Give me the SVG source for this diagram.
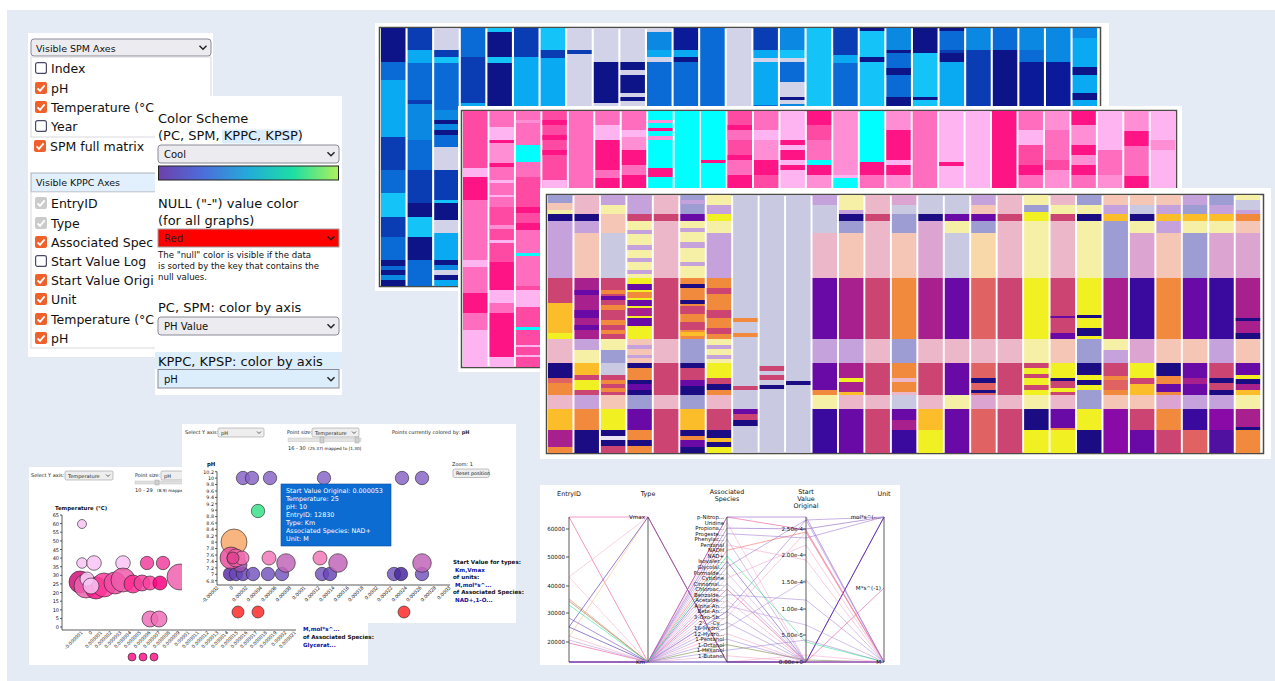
<svg xmlns="http://www.w3.org/2000/svg" width="1275" height="681" viewBox="0 0 1275 681">
<style>
text{font-family:"DejaVu Sans","Liberation Sans",sans-serif;fill:#111}
.ui{font-size:12.5px}
.h{font-size:13px}
.sm{font-size:8.6px}
.dd{fill:#ececf0;stroke:#8a8a96;stroke-width:1}
.chev{fill:none;stroke:#222;stroke-width:1.4}
.frame{fill:#fff}
.bord{fill:#fff;stroke:#4c4c46;stroke-width:1.5}
.nv{fill:#1c0c84}.pu{fill:#6a0aa6}.mg{fill:#a8208e}.cr{fill:#cc4472}.co{fill:#e06262}.or{fill:#f28a3e}.yo{fill:#fbbd2a}.ye{fill:#f0f022}.lv{fill:#c9c9e2}.lp{fill:#c6a2dc}.lb{fill:#9d9dd3}.pk{fill:#ecb7c8}.pe{fill:#f5c5b5}.ly{fill:#f6f0a6}.pl{fill:#dca4d0}.np{fill:#3a0a9e}.vi{fill:#8a0aa8}.wy{fill:#f8d8a8}
.bn{fill:#0c1488}.bd{fill:#0a3cb4}.bm{fill:#0a6ad6}.bb{fill:#0a88e2}.bl{fill:#0aaaf2}.bc{fill:#14c4f8}.bg{fill:#d2d2e8}.bx{fill:#0a1a98}
.hp{fill:#ff1485}.p1{fill:#ff4aa4}.p2{fill:#ff6ebe}.p3{fill:#ff8ed4}.lq{fill:#ffb4f2}.cy{fill:#00ffff}
.tk{font-size:5px;fill:#222}
.ax{stroke:#333;stroke-width:0.8;fill:none}
.bub circle{stroke:#222;stroke-width:0.6;fill-opacity:0.85}
.pc path{fill:none;stroke-width:0.9;stroke-opacity:0.6}
.lg{font-size:5.6px;font-weight:bold}
.lgb{font-size:5.6px;font-weight:bold;fill:#1010a0}
</style>
<defs>
<g id="cbon"><rect x="0" y="0" width="12" height="12" rx="2" fill="#f0602a"/><path d="M2.6 6.3 L5 8.8 L9.6 3.4" fill="none" stroke="#fff" stroke-width="1.8"/></g>
<g id="cbdis"><rect x="0" y="0" width="12" height="12" rx="2" fill="#cbcbcb"/><path d="M2.6 6.3 L5 8.8 L9.6 3.4" fill="none" stroke="#fff" stroke-width="1.8"/></g>
<g id="cboff"><rect x="0.6" y="0.6" width="10.8" height="10.8" rx="2" fill="#fff" stroke="#4a4a66" stroke-width="1.2"/></g>
<path id="chv" d="M-3.5 -1.8 L0 1.8 L3.5 -1.8"/>
<linearGradient id="cool" x1="0" x2="1" y1="0" y2="0">
<stop offset="0" stop-color="#6e40aa"/><stop offset="0.25" stop-color="#4c6edb"/><stop offset="0.5" stop-color="#23abd8"/><stop offset="0.75" stop-color="#1ddfa3"/><stop offset="1" stop-color="#aff05b"/>
</linearGradient>
<clipPath id="clipL"><rect x="28" y="33" width="127" height="324"/></clipPath>
</defs>
<rect x="0" y="0" width="1275" height="681" fill="#fff"/>
<rect x="7" y="10" width="1268" height="671" fill="#e4ebf4"/>

<g id="settings-axes">
<rect x="28" y="33" width="185" height="324" fill="#fff"/>
<rect class="dd" x="31" y="39" width="180" height="17" rx="3"/>
<text x="36" y="51.5" style="font-size:9.5px">Visible SPM Axes</text>
<use href="#chv" x="203" y="47.5" class="chev"/>
<rect x="31" y="57" width="180" height="80" fill="#fff" stroke="#d0d0d8" stroke-width="0.8"/>
<use href="#cboff" x="35" y="62"/><text class="ui" x="51" y="72.5">Index</text>
<use href="#cbon" x="35" y="82"/><text class="ui" x="51" y="92.5">pH</text>
<use href="#cbon" x="35" y="101"/><text class="ui" x="51" y="111.5">Temperature (°C</text>
<use href="#cboff" x="35" y="120"/><text class="ui" x="51" y="130.5">Year</text>
<use href="#cbon" x="34" y="140"/><text class="ui" x="50" y="150.5">SPM full matrix</text>
<rect x="31" y="173" width="180" height="19" fill="#e2f0fd" stroke="#9aa0aa" stroke-width="0.8"/>
<text x="36" y="186" style="font-size:9.5px">Visible KPPC Axes</text>
<rect x="31" y="192" width="180" height="156" fill="#fff" stroke="#d0d0d8" stroke-width="0.8"/>
<use href="#cbdis" x="35" y="197"/><text class="ui" x="51" y="207.5">EntryID</text>
<use href="#cbdis" x="35" y="217"/><text class="ui" x="51" y="227.5">Type</text>
<g clip-path="url(#clipL)">
<use href="#cbon" x="35" y="236"/><text class="ui" x="51" y="246.5">Associated Spec</text>
<use href="#cboff" x="35" y="255"/><text class="ui" x="51" y="265.5">Start Value Log</text>
<use href="#cbon" x="35" y="274"/><text class="ui" x="51" y="284.5">Start Value Origi</text>
</g>
<use href="#cbon" x="35" y="293"/><text class="ui" x="51" y="303.5">Unit</text>
<use href="#cbon" x="35" y="313"/><text class="ui" x="51" y="323.5">Temperature (°C</text>
<use href="#cbon" x="35" y="332"/><text class="ui" x="51" y="342.5">pH</text>
</g>

<g id="settings-color">
<rect x="155" y="96" width="187" height="299" fill="#fff"/>
<text class="h" x="158" y="123">Color Scheme</text>
<rect x="222" y="129.5" width="79" height="14" fill="#dbeeff"/>
<text class="h" x="158" y="140">(PC, SPM, KPPC, KPSP)</text>
<rect class="dd" x="158" y="145" width="181" height="18" rx="3"/>
<text x="164" y="158" style="font-size:10px">Cool</text>
<use href="#chv" x="331" y="154" class="chev"/>
<rect x="158.5" y="166" width="180" height="14" fill="url(#cool)" stroke="#222" stroke-width="1"/>
<text class="h" x="158" y="208">NULL ("-") value color</text>
<text class="h" x="158" y="225">(for all graphs)</text>
<rect x="158" y="229" width="181" height="18" fill="#ff0000" stroke="#a0a0a0" stroke-width="1"/>
<text x="164" y="242" style="font-size:10px;fill:#222">Red</text>
<use href="#chv" x="331" y="238" class="chev"/>
<text class="sm" x="158" y="257.5">The "null" color is visible if the data</text>
<text class="sm" x="158" y="268.5">is sorted by the key that contains the</text>
<text class="sm" x="158" y="279.5">null values.</text>
<text class="h" x="158" y="312">PC, SPM: color by axis</text>
<rect class="dd" x="158" y="317" width="181" height="18" rx="3"/>
<text x="164" y="330" style="font-size:10px">PH Value</text>
<use href="#chv" x="331" y="326" class="chev"/>
<rect x="155" y="352" width="187" height="17" fill="#dceefc"/>
<text class="h" x="158" y="365.5">KPPC, KPSP: color by axis</text>
<rect x="158" y="369.5" width="181" height="18.5" fill="#dceefc" stroke="#8a8a96" stroke-width="1"/>
<text x="164" y="382.5" style="font-size:10px">pH</text>
<use href="#chv" x="331" y="379" class="chev"/>
</g>

<g id="heatmap-blue">
<rect class="frame" x="375" y="23" width="734" height="268"/>
<rect class="bord" x="379.5" y="27.5" width="721" height="259"/>
<g transform="translate(381 0)"><rect class="bn" y="28" width="24.5" height="34"/><rect class="bm" y="62" width="24.5" height="18"/><rect class="bl" y="80" width="24.5" height="57"/><rect class="bd" y="137" width="24.5" height="33"/><rect class="bm" y="170" width="24.5" height="23"/><rect class="bc" y="193" width="24.5" height="24"/><rect class="bd" y="217" width="24.5" height="20"/><rect class="bm" y="237" width="24.5" height="23"/><rect class="bn" y="260" width="24.5" height="6"/><rect class="bm" y="266" width="24.5" height="4"/><rect class="bn" y="270" width="24.5" height="5"/><rect class="bb" y="275" width="24.5" height="5"/><rect class="bn" y="280" width="24.5" height="6"/></g>
<g transform="translate(407.6 0)"><rect class="bd" y="28" width="24.5" height="22"/><rect class="bl" y="50" width="24.5" height="13"/><rect class="bm" y="63" width="24.5" height="37"/><rect class="bd" y="100" width="24.5" height="4"/><rect class="bb" y="104" width="24.5" height="36"/><rect class="bm" y="140" width="24.5" height="30"/><rect class="bd" y="170" width="24.5" height="33"/><rect class="bn" y="203" width="24.5" height="14"/><rect class="bc" y="217" width="24.5" height="20"/><rect class="bn" y="237" width="24.5" height="23"/><rect class="bm" y="260" width="24.5" height="26"/></g>
<g transform="translate(434.2 0)"><rect class="bg" y="28" width="24.5" height="22"/><rect class="bd" y="50" width="24.5" height="7"/><rect class="bc" y="57" width="24.5" height="6"/><rect class="bm" y="63" width="24.5" height="47"/><rect class="bb" y="110" width="24.5" height="10"/><rect class="bn" y="120" width="24.5" height="4"/><rect class="bb" y="124" width="24.5" height="6"/><rect class="bn" y="130" width="24.5" height="5"/><rect class="bm" y="135" width="24.5" height="12"/><rect class="bg" y="147" width="24.5" height="23"/><rect class="bd" y="170" width="24.5" height="30"/><rect class="bc" y="200" width="24.5" height="3"/><rect class="bn" y="203" width="24.5" height="17"/><rect class="bg" y="220" width="24.5" height="13"/><rect class="bl" y="233" width="24.5" height="27"/><rect class="bn" y="260" width="24.5" height="5"/><rect class="bb" y="265" width="24.5" height="5"/><rect class="bg" y="270" width="24.5" height="5"/><rect class="bn" y="275" width="24.5" height="5"/><rect class="bl" y="280" width="24.5" height="6"/></g>
<g transform="translate(460.8 0)"><rect class="bm" y="28" width="24.5" height="29"/><rect class="bd" y="57" width="24.5" height="46"/><rect class="bl" y="103" width="24.5" height="7"/></g>
<g transform="translate(487.4 0)"><rect class="bc" y="28" width="24.5" height="4"/><rect class="bn" y="32" width="24.5" height="25"/><rect class="bc" y="57" width="24.5" height="6"/><rect class="bn" y="63" width="24.5" height="44"/><rect class="bd" y="107" width="24.5" height="3"/></g>
<g transform="translate(514 0)"><rect class="bd" y="28" width="24.5" height="29"/><rect class="bl" y="57" width="24.5" height="53"/></g>
<g transform="translate(540.6 0)"><rect class="bc" y="28" width="24.5" height="22"/><rect class="bd" y="50" width="24.5" height="8"/><rect class="bl" y="58" width="24.5" height="52"/></g>
<g transform="translate(567.2 0)"><rect class="bg" y="28" width="24.5" height="82"/><rect class="bd" y="50" width="24.5" height="4"/></g>
<g transform="translate(593.8 0)"><rect class="bg" y="28" width="24.5" height="82"/><rect class="bn" y="62" width="24.5" height="41"/></g>
<g transform="translate(620.4 0)"><rect class="bg" y="28" width="24.5" height="82"/><rect class="bn" y="62" width="24.5" height="8"/><rect class="bn" y="75" width="24.5" height="18"/><rect class="bn" y="97" width="24.5" height="4"/></g>
<g transform="translate(647 0)"><rect class="bg" y="28" width="24.5" height="82"/><rect class="bb" y="32" width="24.5" height="18"/><rect class="bl" y="50" width="24.5" height="7"/><rect class="bm" y="62" width="24.5" height="48"/></g>
<g transform="translate(673.6 0)"><rect class="bx" y="28" width="24.5" height="22"/><rect class="bl" y="50" width="24.5" height="7"/><rect class="bn" y="57" width="24.5" height="5"/><rect class="bm" y="62" width="24.5" height="48"/></g>
<g transform="translate(700.2 0)"><rect class="bm" y="28" width="24.5" height="82"/></g>
<g transform="translate(726.8 0)"><rect class="bg" y="28" width="24.5" height="82"/></g>
<g transform="translate(753.4 0)"><rect class="bd" y="28" width="24.5" height="22"/><rect class="bl" y="50" width="24.5" height="8"/><rect class="bg" y="58" width="24.5" height="4"/><rect class="bl" y="62" width="24.5" height="43"/><rect class="bm" y="105" width="24.5" height="5"/></g>
<g transform="translate(780 0)"><rect class="bb" y="28" width="24.5" height="22"/><rect class="bc" y="50" width="24.5" height="8"/><rect class="bg" y="58" width="24.5" height="4"/><rect class="bm" y="62" width="24.5" height="20"/><rect class="bg" y="82" width="24.5" height="28"/><rect class="bn" y="97" width="24.5" height="3"/><rect class="bb" y="104" width="24.5" height="6"/></g>
<g transform="translate(806.6 0)"><rect class="bc" y="28" width="24.5" height="82"/></g>
<g transform="translate(833.2 0)"><rect class="bd" y="28" width="24.5" height="27"/><rect class="bl" y="55" width="24.5" height="8"/><rect class="bm" y="63" width="24.5" height="47"/></g>
<g transform="translate(859.8 0)"><rect class="bc" y="28" width="24.5" height="82"/><rect class="bn" y="28" width="24.5" height="3"/><rect class="bn" y="57" width="24.5" height="5"/></g>
<g transform="translate(886.4 0)"><rect class="bb" y="28" width="24.5" height="22"/><rect class="bn" y="50" width="24.5" height="3"/><rect class="bm" y="53" width="24.5" height="57"/><rect class="bn" y="68" width="24.5" height="7"/><rect class="bn" y="97" width="24.5" height="13"/></g>
<g transform="translate(913 0)"><rect class="bn" y="28" width="24.5" height="25"/><rect class="bc" y="53" width="24.5" height="57"/><rect class="bn" y="97" width="24.5" height="3"/></g>
<g transform="translate(939.6 0)"><rect class="bm" y="28" width="24.5" height="22"/><rect class="bn" y="28" width="24.5" height="3"/><rect class="bd" y="50" width="24.5" height="3"/><rect class="bn" y="53" width="24.5" height="9"/><rect class="bl" y="62" width="24.5" height="48"/></g>
<g transform="translate(966.2 0)"><rect class="bb" y="28" width="24.5" height="22"/><rect class="bd" y="50" width="24.5" height="60"/></g>
<g transform="translate(992.8 0)"><rect class="bm" y="28" width="24.5" height="22"/><rect class="bn" y="50" width="24.5" height="60"/></g>
<g transform="translate(1019.4 0)"><rect class="bb" y="28" width="24.5" height="22"/><rect class="bm" y="50" width="24.5" height="12"/><rect class="bx" y="62" width="24.5" height="48"/></g>
<g transform="translate(1046 0)"><rect class="bb" y="28" width="24.5" height="34"/><rect class="bx" y="62" width="24.5" height="48"/></g>
<g transform="translate(1072.6 0)"><rect class="bb" y="28" width="24.5" height="10"/><rect class="bl" y="38" width="24.5" height="72"/><rect class="bn" y="67" width="24.5" height="8"/><rect class="bn" y="93" width="24.5" height="7"/></g>
</g>

<g id="heatmap-pink">
<rect class="frame" x="458" y="106" width="724" height="266"/>
<rect class="bord" x="461.5" y="110.5" width="715" height="257"/>
<g transform="translate(463 0)"><rect class="p1" y="111" width="24.5" height="57"/><rect class="lq" y="168" width="24.5" height="9"/><rect class="hp" y="177" width="24.5" height="23"/><rect class="p2" y="200" width="24.5" height="60"/><rect class="lq" y="260" width="24.5" height="7"/><rect class="p2" y="267" width="24.5" height="26"/><rect class="hp" y="293" width="24.5" height="20"/><rect class="p2" y="313" width="24.5" height="17"/><rect class="lq" y="330" width="24.5" height="37"/></g>
<g transform="translate(489.45 0)"><rect class="p2" y="111" width="24.5" height="16"/><rect class="lq" y="127" width="24.5" height="13"/><rect class="hp" y="140" width="24.5" height="3"/><rect class="p3" y="143" width="24.5" height="20"/><rect class="hp" y="163" width="24.5" height="4"/><rect class="p2" y="167" width="24.5" height="40"/><rect class="lq" y="180" width="24.5" height="3"/><rect class="lq" y="195" width="24.5" height="2"/><rect class="p1" y="207" width="24.5" height="55"/><rect class="p3" y="225" width="24.5" height="4"/><rect class="lq" y="240" width="24.5" height="3"/><rect class="hp" y="262" width="24.5" height="28"/><rect class="lq" y="290" width="24.5" height="13"/><rect class="p2" y="303" width="24.5" height="10"/><rect class="hp" y="313" width="24.5" height="44"/><rect class="lq" y="357" width="24.5" height="10"/></g>
<g transform="translate(515.9 0)"><rect class="p2" y="111" width="24.5" height="34"/><rect class="p3" y="120" width="24.5" height="3"/><rect class="cy" y="145" width="24.5" height="17"/><rect class="p2" y="162" width="24.5" height="15"/><rect class="p1" y="177" width="24.5" height="30"/><rect class="hp" y="207" width="24.5" height="6"/><rect class="p1" y="213" width="24.5" height="10"/><rect class="hp" y="223" width="24.5" height="7"/><rect class="p2" y="230" width="24.5" height="23"/><rect class="cy" y="253" width="24.5" height="3"/><rect class="p2" y="256" width="24.5" height="30"/><rect class="p1" y="286" width="24.5" height="4"/><rect class="lq" y="290" width="24.5" height="17"/><rect class="p1" y="307" width="24.5" height="20"/><rect class="cy" y="327" width="24.5" height="3"/><rect class="p1" y="330" width="24.5" height="37"/><rect class="lq" y="345" width="24.5" height="2"/><rect class="lq" y="355" width="24.5" height="2"/></g>
<g transform="translate(542.35 0)"><rect class="p1" y="111" width="24.5" height="84"/><rect class="hp" y="120" width="24.5" height="5"/><rect class="hp" y="135" width="24.5" height="5"/><rect class="hp" y="150" width="24.5" height="5"/><rect class="lq" y="180" width="24.5" height="15"/></g>
<g transform="translate(568.8 0)"><rect class="p2" y="111" width="24.5" height="84"/></g>
<g transform="translate(595.25 0)"><rect class="p2" y="111" width="24.5" height="14"/><rect class="lq" y="125" width="24.5" height="15"/><rect class="hp" y="140" width="24.5" height="30"/><rect class="p2" y="170" width="24.5" height="8"/><rect class="hp" y="178" width="24.5" height="17"/></g>
<g transform="translate(621.7 0)"><rect class="p2" y="111" width="24.5" height="19"/><rect class="lq" y="130" width="24.5" height="7"/><rect class="p3" y="137" width="24.5" height="13"/><rect class="hp" y="150" width="24.5" height="15"/><rect class="p2" y="165" width="24.5" height="10"/><rect class="hp" y="175" width="24.5" height="20"/></g>
<g transform="translate(648.15 0)"><rect class="cy" y="111" width="24.5" height="84"/><rect class="p3" y="120" width="24.5" height="3"/><rect class="hp" y="128" width="24.5" height="3"/><rect class="p3" y="136" width="24.5" height="4"/><rect class="hp" y="168" width="24.5" height="9"/></g>
<g transform="translate(674.6 0)"><rect class="cy" y="111" width="24.5" height="84"/></g>
<g transform="translate(701.05 0)"><rect class="cy" y="111" width="24.5" height="84"/><rect class="hp" y="160" width="24.5" height="3"/></g>
<g transform="translate(727.5 0)"><rect class="p1" y="111" width="24.5" height="84"/><rect class="hp" y="125" width="24.5" height="5"/><rect class="p2" y="130" width="24.5" height="10"/><rect class="hp" y="155" width="24.5" height="5"/><rect class="p2" y="160" width="24.5" height="15"/><rect class="hp" y="175" width="24.5" height="20"/></g>
<g transform="translate(753.95 0)"><rect class="p2" y="111" width="24.5" height="19"/><rect class="lq" y="130" width="24.5" height="10"/><rect class="p3" y="140" width="24.5" height="20"/><rect class="hp" y="160" width="24.5" height="15"/><rect class="p1" y="175" width="24.5" height="20"/></g>
<g transform="translate(780.4 0)"><rect class="lq" y="111" width="24.5" height="84"/><rect class="hp" y="140" width="24.5" height="5"/><rect class="hp" y="150" width="24.5" height="10"/><rect class="hp" y="165" width="24.5" height="5"/></g>
<g transform="translate(806.85 0)"><rect class="hp" y="111" width="24.5" height="14"/><rect class="p1" y="125" width="24.5" height="15"/><rect class="p2" y="140" width="24.5" height="20"/><rect class="cy" y="160" width="24.5" height="5"/><rect class="hp" y="165" width="24.5" height="10"/><rect class="p3" y="175" width="24.5" height="20"/></g>
<g transform="translate(833.3 0)"><rect class="p3" y="111" width="24.5" height="64"/><rect class="lq" y="175" width="24.5" height="3"/><rect class="cy" y="178" width="24.5" height="12"/><rect class="p1" y="190" width="24.5" height="5"/></g>
<g transform="translate(859.75 0)"><rect class="cy" y="111" width="24.5" height="51"/><rect class="hp" y="162" width="24.5" height="13"/><rect class="p2" y="175" width="24.5" height="20"/></g>
<g transform="translate(886.2 0)"><rect class="p3" y="111" width="24.5" height="19"/><rect class="hp" y="130" width="24.5" height="30"/><rect class="lq" y="160" width="24.5" height="5"/><rect class="hp" y="165" width="24.5" height="10"/><rect class="p3" y="175" width="24.5" height="20"/></g>
<g transform="translate(912.65 0)"><rect class="p2" y="111" width="24.5" height="84"/></g>
<g transform="translate(939.1 0)"><rect class="lq" y="111" width="24.5" height="84"/><rect class="hp" y="162" width="24.5" height="4"/></g>
<g transform="translate(965.55 0)"><rect class="lq" y="111" width="24.5" height="84"/></g>
<g transform="translate(992 0)"><rect class="hp" y="111" width="24.5" height="84"/></g>
<g transform="translate(1018.45 0)"><rect class="p2" y="111" width="24.5" height="19"/><rect class="lq" y="130" width="24.5" height="15"/><rect class="p1" y="145" width="24.5" height="20"/><rect class="hp" y="165" width="24.5" height="10"/><rect class="p2" y="175" width="24.5" height="20"/></g>
<g transform="translate(1044.9 0)"><rect class="p3" y="111" width="24.5" height="19"/><rect class="p2" y="130" width="24.5" height="30"/><rect class="p1" y="160" width="24.5" height="10"/><rect class="p3" y="170" width="24.5" height="25"/></g>
<g transform="translate(1071.35 0)"><rect class="hp" y="111" width="24.5" height="14"/><rect class="p3" y="125" width="24.5" height="20"/><rect class="hp" y="145" width="24.5" height="10"/><rect class="p3" y="155" width="24.5" height="10"/><rect class="hp" y="165" width="24.5" height="10"/><rect class="p2" y="175" width="24.5" height="20"/></g>
<g transform="translate(1097.8 0)"><rect class="lq" y="111" width="24.5" height="39"/><rect class="p2" y="150" width="24.5" height="25"/><rect class="p3" y="175" width="24.5" height="20"/></g>
<g transform="translate(1124.25 0)"><rect class="p3" y="111" width="24.5" height="20"/><rect class="hp" y="131" width="24.5" height="15"/><rect class="p2" y="146" width="24.5" height="30"/><rect class="hp" y="176" width="24.5" height="19"/></g>
<g transform="translate(1150.7 0)"><rect class="lq" y="111" width="24.5" height="84"/><rect class="p3" y="140" width="24.5" height="10"/></g>
</g>

<g id="heatmap-plasma">
<rect class="frame" x="540" y="188" width="731" height="271"/>
<rect class="bord" x="546.5" y="194.5" width="717" height="259"/>
<g transform="translate(548 0)"><rect class="lb" y="195" width="24.5" height="8"/><rect class="pe" y="203" width="24.5" height="7"/><rect class="ly" y="210" width="24.5" height="4"/><rect class="nv" y="214" width="24.5" height="7"/><rect class="lp" y="221" width="24.5" height="57"/><rect class="cr" y="278" width="24.5" height="25"/><rect class="yo" y="303" width="24.5" height="30"/><rect class="ye" y="333" width="24.5" height="6"/><rect class="pk" y="339" width="24.5" height="24"/><rect class="nv" y="363" width="24.5" height="15"/><rect class="co" y="378" width="24.5" height="5"/><rect class="or" y="383" width="24.5" height="12"/><rect class="pk" y="395" width="24.5" height="14"/><rect class="yo" y="409" width="24.5" height="21"/><rect class="mg" y="430" width="24.5" height="17"/><rect class="or" y="447" width="24.5" height="6"/></g>
<g transform="translate(574.45 0)"><rect class="pk" y="195" width="24.5" height="19"/><rect class="nv" y="214" width="24.5" height="7"/><rect class="lp" y="221" width="24.5" height="12"/><rect class="pe" y="233" width="24.5" height="45"/><rect class="mg" y="278" width="24.5" height="61"/><rect class="pu" y="290" width="24.5" height="5"/><rect class="pu" y="310" width="24.5" height="8"/><rect class="pu" y="325" width="24.5" height="5"/><rect class="lp" y="339" width="24.5" height="11"/><rect class="ly" y="350" width="24.5" height="13"/><rect class="yo" y="363" width="24.5" height="12"/><rect class="cr" y="375" width="24.5" height="5"/><rect class="ye" y="380" width="24.5" height="10"/><rect class="cr" y="390" width="24.5" height="5"/><rect class="lp" y="395" width="24.5" height="14"/><rect class="or" y="409" width="24.5" height="21"/><rect class="nv" y="430" width="24.5" height="23"/></g>
<g transform="translate(600.9 0)"><rect class="lp" y="195" width="24.5" height="10"/><rect class="ly" y="205" width="24.5" height="9"/><rect class="pe" y="214" width="24.5" height="19"/><rect class="lv" y="233" width="24.5" height="45"/><rect class="cr" y="278" width="24.5" height="61"/><rect class="or" y="290" width="24.5" height="4"/><rect class="pu" y="296" width="24.5" height="4"/><rect class="or" y="305" width="24.5" height="5"/><rect class="or" y="320" width="24.5" height="5"/><rect class="or" y="330" width="24.5" height="4"/><rect class="ly" y="339" width="24.5" height="11"/><rect class="lb" y="350" width="24.5" height="13"/><rect class="lv" y="363" width="24.5" height="12"/><rect class="cr" y="375" width="24.5" height="20"/><rect class="or" y="380" width="24.5" height="4"/><rect class="or" y="388" width="24.5" height="4"/><rect class="pe" y="395" width="24.5" height="14"/><rect class="ye" y="409" width="24.5" height="21"/><rect class="nv" y="430" width="24.5" height="6"/><rect y="436" width="24.5" height="4" fill="#ece4f2"/><rect class="nv" y="440" width="24.5" height="6"/><rect class="cr" y="446" width="24.5" height="7"/></g>
<g transform="translate(627.35 0)"><rect class="lp" y="195" width="24.5" height="19"/><rect class="cr" y="214" width="24.5" height="7"/><rect class="ly" y="221" width="24.5" height="57"/><rect class="lp" y="230" width="24.5" height="4"/><rect class="lp" y="245" width="24.5" height="5"/><rect class="lp" y="258" width="24.5" height="4"/><rect class="lp" y="270" width="24.5" height="4"/><rect class="ye" y="278" width="24.5" height="61"/><rect class="pu" y="284" width="24.5" height="6"/><rect class="or" y="292" width="24.5" height="6"/><rect class="pu" y="300" width="24.5" height="6"/><rect class="mg" y="308" width="24.5" height="8"/><rect class="pu" y="318" width="24.5" height="8"/><rect class="pe" y="339" width="24.5" height="24"/><rect class="lp" y="345" width="24.5" height="4"/><rect class="lp" y="355" width="24.5" height="3"/><rect class="nv" y="363" width="24.5" height="5"/><rect class="or" y="368" width="24.5" height="12"/><rect class="nv" y="380" width="24.5" height="4"/><rect class="pu" y="384" width="24.5" height="6"/><rect class="nv" y="390" width="24.5" height="5"/><rect class="lb" y="395" width="24.5" height="14"/><rect class="pu" y="409" width="24.5" height="21"/><rect class="or" y="430" width="24.5" height="10"/><rect class="nv" y="440" width="24.5" height="6"/><rect class="or" y="446" width="24.5" height="7"/></g>
<g transform="translate(653.8 0)"><rect class="pk" y="195" width="24.5" height="258"/><rect class="cr" y="214" width="24.5" height="7"/><rect class="cr" y="278" width="24.5" height="61"/><rect class="cr" y="363" width="24.5" height="32"/><rect class="cr" y="409" width="24.5" height="44"/></g>
<g transform="translate(680.25 0)"><rect class="lb" y="195" width="24.5" height="19"/><rect class="lp" y="200" width="24.5" height="4"/><rect class="pu" y="214" width="24.5" height="7"/><rect class="ly" y="221" width="24.5" height="57"/><rect class="lp" y="228" width="24.5" height="4"/><rect class="lp" y="242" width="24.5" height="6"/><rect class="lp" y="262" width="24.5" height="4"/><rect class="or" y="278" width="24.5" height="61"/><rect class="nv" y="284" width="24.5" height="4"/><rect class="nv" y="300" width="24.5" height="4"/><rect class="cr" y="306" width="24.5" height="8"/><rect class="cr" y="322" width="24.5" height="8"/><rect class="yo" y="332" width="24.5" height="4"/><rect class="lb" y="339" width="24.5" height="24"/><rect class="nv" y="363" width="24.5" height="5"/><rect class="cr" y="368" width="24.5" height="12"/><rect class="pu" y="380" width="24.5" height="6"/><rect class="nv" y="386" width="24.5" height="9"/><rect class="lb" y="395" width="24.5" height="14"/><rect class="yo" y="409" width="24.5" height="21"/><rect class="nv" y="430" width="24.5" height="6"/><rect class="or" y="436" width="24.5" height="4"/><rect class="pu" y="440" width="24.5" height="7"/><rect class="nv" y="447" width="24.5" height="6"/></g>
<g transform="translate(706.7 0)"><rect class="ly" y="195" width="24.5" height="10"/><rect class="lp" y="205" width="24.5" height="9"/><rect class="ye" y="214" width="24.5" height="7"/><rect class="ly" y="221" width="24.5" height="12"/><rect class="lp" y="233" width="24.5" height="45"/><rect class="or" y="278" width="24.5" height="61"/><rect class="cr" y="288" width="24.5" height="6"/><rect class="cr" y="310" width="24.5" height="8"/><rect class="cr" y="328" width="24.5" height="6"/><rect class="ly" y="339" width="24.5" height="24"/><rect class="lp" y="345" width="24.5" height="4"/><rect class="lp" y="355" width="24.5" height="4"/><rect class="ye" y="363" width="24.5" height="15"/><rect class="cr" y="378" width="24.5" height="6"/><rect class="nv" y="384" width="24.5" height="6"/><rect class="or" y="390" width="24.5" height="5"/><rect class="pk" y="395" width="24.5" height="14"/><rect class="cr" y="409" width="24.5" height="21"/><rect class="nv" y="430" width="24.5" height="8"/><rect class="yo" y="438" width="24.5" height="4"/><rect class="nv" y="442" width="24.5" height="5"/><rect class="ye" y="447" width="24.5" height="6"/></g>
<g transform="translate(733.15 0)"><rect class="lv" y="195" width="24.5" height="258"/><rect class="or" y="318" width="24.5" height="4"/><rect class="or" y="333" width="24.5" height="4"/><rect class="cr" y="386" width="24.5" height="4"/><rect class="pu" y="409" width="24.5" height="5"/><rect class="cr" y="414" width="24.5" height="6"/><rect class="nv" y="420" width="24.5" height="6"/></g>
<g transform="translate(759.6 0)"><rect class="lv" y="195" width="24.5" height="258"/><rect class="cr" y="366" width="24.5" height="5"/><rect class="cr" y="375" width="24.5" height="5"/><rect class="nv" y="385" width="24.5" height="4"/></g>
<g transform="translate(786.05 0)"><rect class="lv" y="195" width="24.5" height="258"/><rect class="nv" y="381" width="24.5" height="4"/></g>
<g transform="translate(812.5 0)"><rect class="lp" y="195" width="24.5" height="10"/><rect class="lv" y="205" width="24.5" height="28"/><rect class="pk" y="233" width="24.5" height="45"/><rect class="pu" y="278" width="24.5" height="61"/><rect class="lp" y="339" width="24.5" height="24"/><rect class="pu" y="363" width="24.5" height="27"/><rect class="or" y="390" width="24.5" height="5"/><rect class="ly" y="395" width="24.5" height="14"/><rect class="np" y="409" width="24.5" height="44"/></g>
<g transform="translate(838.95 0)"><rect class="ly" y="195" width="24.5" height="15"/><rect class="lp" y="210" width="24.5" height="4"/><rect class="nv" y="214" width="24.5" height="7"/><rect class="lb" y="221" width="24.5" height="12"/><rect class="pe" y="233" width="24.5" height="45"/><rect class="mg" y="278" width="24.5" height="61"/><rect class="lp" y="339" width="24.5" height="24"/><rect class="mg" y="363" width="24.5" height="32"/><rect class="ye" y="378" width="24.5" height="4"/><rect class="yo" y="392" width="24.5" height="3"/><rect class="pk" y="395" width="24.5" height="14"/><rect class="pu" y="409" width="24.5" height="44"/></g>
<g transform="translate(865.4 0)"><rect class="pk" y="195" width="24.5" height="258"/><rect class="cr" y="214" width="24.5" height="7"/><rect class="cr" y="278" width="24.5" height="61"/><rect class="cr" y="363" width="24.5" height="32"/><rect class="cr" y="409" width="24.5" height="44"/></g>
<g transform="translate(891.85 0)"><rect class="pl" y="195" width="24.5" height="10"/><rect class="lv" y="205" width="24.5" height="9"/><rect class="lb" y="214" width="24.5" height="19"/><rect class="pe" y="233" width="24.5" height="45"/><rect class="or" y="278" width="24.5" height="61"/><rect class="lb" y="339" width="24.5" height="24"/><rect class="or" y="363" width="24.5" height="32"/><rect class="pk" y="378" width="24.5" height="4"/><rect class="pk" y="392" width="24.5" height="3"/><rect class="lv" y="395" width="24.5" height="14"/><rect class="pu" y="409" width="24.5" height="11"/><rect class="mg" y="420" width="24.5" height="10"/><rect class="np" y="430" width="24.5" height="23"/></g>
<g transform="translate(918.3 0)"><rect class="lv" y="195" width="24.5" height="19"/><rect class="nv" y="214" width="24.5" height="7"/><rect class="pl" y="221" width="24.5" height="57"/><rect class="mg" y="278" width="24.5" height="61"/><rect class="pk" y="339" width="24.5" height="24"/><rect class="cr" y="363" width="24.5" height="32"/><rect class="pk" y="395" width="24.5" height="14"/><rect class="yo" y="409" width="24.5" height="21"/><rect class="ye" y="430" width="24.5" height="23"/></g>
<g transform="translate(944.75 0)"><rect class="lv" y="195" width="24.5" height="19"/><rect class="pu" y="214" width="24.5" height="7"/><rect class="ly" y="221" width="24.5" height="12"/><rect class="lv" y="233" width="24.5" height="45"/><rect class="pu" y="278" width="24.5" height="61"/><rect class="pk" y="339" width="24.5" height="24"/><rect class="pu" y="363" width="24.5" height="32"/><rect class="ly" y="395" width="24.5" height="14"/><rect class="pu" y="409" width="24.5" height="44"/></g>
<g transform="translate(971.2 0)"><rect class="lp" y="195" width="24.5" height="10"/><rect class="pe" y="205" width="24.5" height="9"/><rect class="pu" y="214" width="24.5" height="7"/><rect class="lb" y="221" width="24.5" height="12"/><rect class="wy" y="233" width="24.5" height="45"/><rect class="co" y="278" width="24.5" height="61"/><rect class="pk" y="339" width="24.5" height="24"/><rect class="co" y="363" width="24.5" height="32"/><rect class="nv" y="378" width="24.5" height="5"/><rect class="nv" y="390" width="24.5" height="3"/><rect class="pl" y="395" width="24.5" height="14"/><rect class="co" y="409" width="24.5" height="44"/></g>
<g transform="translate(997.65 0)"><rect class="pk" y="195" width="24.5" height="258"/><rect class="cr" y="214" width="24.5" height="7"/><rect class="cr" y="278" width="24.5" height="61"/><rect class="cr" y="363" width="24.5" height="32"/><rect class="cr" y="409" width="24.5" height="44"/></g>
<g transform="translate(1024.1 0)"><rect class="ly" y="195" width="24.5" height="10"/><rect class="lb" y="205" width="24.5" height="7"/><rect class="ye" y="212" width="24.5" height="9"/><rect class="ly" y="221" width="24.5" height="57"/><rect class="ye" y="278" width="24.5" height="61"/><rect class="ly" y="339" width="24.5" height="24"/><rect class="ye" y="363" width="24.5" height="32"/><rect class="cr" y="363" width="24.5" height="5"/><rect class="cr" y="374" width="24.5" height="4"/><rect class="cr" y="385" width="24.5" height="5"/><rect class="ly" y="395" width="24.5" height="14"/><rect class="nv" y="409" width="24.5" height="21"/><rect class="ye" y="430" width="24.5" height="23"/></g>
<g transform="translate(1050.55 0)"><rect class="pk" y="195" width="24.5" height="10"/><rect class="ly" y="205" width="24.5" height="9"/><rect class="cr" y="214" width="24.5" height="7"/><rect class="pk" y="221" width="24.5" height="57"/><rect class="cr" y="278" width="24.5" height="61"/><rect class="pu" y="316" width="24.5" height="2"/><rect class="pu" y="333" width="24.5" height="6"/><rect class="pe" y="339" width="24.5" height="24"/><rect class="ye" y="363" width="24.5" height="32"/><rect class="nv" y="378" width="24.5" height="3"/><rect class="cr" y="381" width="24.5" height="7"/><rect class="cr" y="392" width="24.5" height="3"/><rect class="pk" y="395" width="24.5" height="14"/><rect class="pu" y="409" width="24.5" height="19"/><rect class="or" y="428" width="24.5" height="2"/><rect class="ye" y="430" width="24.5" height="23"/></g>
<g transform="translate(1077 0)"><rect class="lb" y="195" width="24.5" height="10"/><rect class="ly" y="205" width="24.5" height="9"/><rect class="nv" y="214" width="24.5" height="7"/><rect class="ly" y="221" width="24.5" height="57"/><rect class="ye" y="278" width="24.5" height="61"/><rect class="nv" y="315" width="24.5" height="3"/><rect class="nv" y="328" width="24.5" height="8"/><rect class="lb" y="339" width="24.5" height="24"/><rect class="nv" y="363" width="24.5" height="12"/><rect class="ye" y="375" width="24.5" height="5"/><rect class="nv" y="380" width="24.5" height="5"/><rect class="ye" y="385" width="24.5" height="5"/><rect class="lb" y="390" width="24.5" height="19"/><rect class="ye" y="409" width="24.5" height="21"/><rect class="nv" y="430" width="24.5" height="23"/></g>
<g transform="translate(1103.45 0)"><rect class="pe" y="195" width="24.5" height="10"/><rect class="lp" y="205" width="24.5" height="9"/><rect class="yo" y="214" width="24.5" height="7"/><rect class="lb" y="221" width="24.5" height="57"/><rect class="mg" y="278" width="24.5" height="61"/><rect class="ly" y="339" width="24.5" height="11"/><rect class="lp" y="350" width="24.5" height="13"/><rect class="cr" y="363" width="24.5" height="13"/><rect class="or" y="376" width="24.5" height="4"/><rect class="co" y="380" width="24.5" height="10"/><rect class="or" y="390" width="24.5" height="5"/><rect class="pe" y="395" width="24.5" height="14"/><rect class="vi" y="409" width="24.5" height="44"/></g>
<g transform="translate(1129.9 0)"><rect class="pe" y="195" width="24.5" height="10"/><rect class="lv" y="205" width="24.5" height="9"/><rect class="nv" y="214" width="24.5" height="7"/><rect class="ly" y="221" width="24.5" height="12"/><rect class="pl" y="233" width="24.5" height="45"/><rect class="np" y="278" width="24.5" height="61"/><rect class="pl" y="339" width="24.5" height="24"/><rect class="ye" y="363" width="24.5" height="15"/><rect class="cr" y="378" width="24.5" height="6"/><rect class="yo" y="384" width="24.5" height="11"/><rect class="pe" y="395" width="24.5" height="14"/><rect class="cr" y="409" width="24.5" height="21"/><rect class="pu" y="430" width="24.5" height="23"/></g>
<g transform="translate(1156.35 0)"><rect class="pe" y="195" width="24.5" height="10"/><rect class="lp" y="205" width="24.5" height="9"/><rect class="yo" y="214" width="24.5" height="7"/><rect class="lp" y="221" width="24.5" height="12"/><rect class="pe" y="233" width="24.5" height="45"/><rect class="or" y="278" width="24.5" height="61"/><rect class="pe" y="339" width="24.5" height="24"/><rect class="nv" y="363" width="24.5" height="13"/><rect class="or" y="376" width="24.5" height="8"/><rect class="pu" y="384" width="24.5" height="8"/><rect class="or" y="392" width="24.5" height="3"/><rect class="pl" y="395" width="24.5" height="14"/><rect class="or" y="409" width="24.5" height="21"/><rect class="cr" y="430" width="24.5" height="23"/></g>
<g transform="translate(1182.8 0)"><rect class="lp" y="195" width="24.5" height="10"/><rect class="lb" y="205" width="24.5" height="9"/><rect class="yo" y="214" width="24.5" height="7"/><rect class="ly" y="221" width="24.5" height="12"/><rect class="lb" y="233" width="24.5" height="45"/><rect class="pu" y="278" width="24.5" height="61"/><rect class="pe" y="339" width="24.5" height="24"/><rect class="pu" y="363" width="24.5" height="15"/><rect class="mg" y="378" width="24.5" height="6"/><rect class="pu" y="384" width="24.5" height="11"/><rect class="lp" y="395" width="24.5" height="14"/><rect class="np" y="409" width="24.5" height="21"/><rect class="co" y="430" width="24.5" height="23"/></g>
<g transform="translate(1209.25 0)"><rect class="lb" y="195" width="24.5" height="10"/><rect class="lp" y="205" width="24.5" height="9"/><rect class="yo" y="214" width="24.5" height="7"/><rect class="ly" y="221" width="24.5" height="12"/><rect class="pl" y="233" width="24.5" height="45"/><rect class="np" y="278" width="24.5" height="61"/><rect class="lp" y="339" width="24.5" height="24"/><rect class="cr" y="363" width="24.5" height="15"/><rect class="nv" y="378" width="24.5" height="5"/><rect class="cr" y="383" width="24.5" height="7"/><rect class="nv" y="390" width="24.5" height="5"/><rect class="lp" y="395" width="24.5" height="14"/><rect class="vi" y="409" width="24.5" height="21"/><rect y="430" width="24.5" height="23" fill="#5010a0"/></g>
<g transform="translate(1235.7 0)"><rect class="ly" y="195" width="24.5" height="5"/><rect class="lv" y="200" width="24.5" height="10"/><rect class="lp" y="210" width="24.5" height="4"/><rect class="or" y="214" width="24.5" height="7"/><rect class="pe" y="221" width="24.5" height="12"/><rect class="pl" y="233" width="24.5" height="45"/><rect class="mg" y="278" width="24.5" height="61"/><rect class="nv" y="318" width="24.5" height="3"/><rect class="nv" y="333" width="24.5" height="6"/><rect class="pe" y="339" width="24.5" height="24"/><rect class="pu" y="363" width="24.5" height="12"/><rect class="ye" y="375" width="24.5" height="4"/><rect class="nv" y="379" width="24.5" height="5"/><rect class="mg" y="384" width="24.5" height="6"/><rect class="yo" y="390" width="24.5" height="5"/><rect class="ly" y="395" width="24.5" height="14"/><rect class="mg" y="409" width="24.5" height="18"/><rect class="nv" y="427" width="24.5" height="3"/><rect class="or" y="430" width="24.5" height="23"/></g>
</g>

<g id="scatter-temperature">
<rect x="29" y="467" width="339" height="198" fill="#fff"/>
<text class="tk" x="31" y="477">Select Y axis:</text>
<rect x="65" y="471" width="48" height="9" rx="1.5" fill="#eee" stroke="#888" stroke-width="0.5"/>
<text class="tk" x="68" y="477.5">Temperature</text>
<path d="M106 474.5 L108 476.5 L110 474.5" fill="none" stroke="#222" stroke-width="0.7"/>
<text class="tk" x="135" y="477">Point size:</text>
<rect x="161" y="471" width="40" height="9" rx="1.5" fill="#eee" stroke="#888" stroke-width="0.5"/>
<text class="tk" x="164" y="477.5">pH</text>
<rect x="135" y="481" width="60" height="3" fill="#e0e0e0" stroke="#bbb" stroke-width="0.4"/>
<rect x="155" y="480" width="4" height="5" fill="#d0d0d0" stroke="#999" stroke-width="0.4"/>
<text class="tk" x="135" y="491.5">10 - 29</text>
<text x="157" y="491.5" style="font-size:4.2px">(8.9) mapped to [1,30]</text>
<text x="55" y="510" style="font-size:5.4px;font-weight:bold">Temperature (°C)</text>
<path class="ax" d="M62 515 V630 H296"/>
<path class="ax" d="M60 515H62M60 523.6H62M60 532.2H62M60 540.9H62M60 549.5H62M60 558.1H62M60 566.7H62M60 575.3H62M60 583.9H62M60 592.5H62M60 601.2H62M60 609.8H62M60 618.4H62M60 627H62"/>
<g class="tk" text-anchor="end">
<text x="59" y="517">65</text><text x="59" y="525.6">60</text><text x="59" y="534.2">55</text><text x="59" y="542.9">50</text><text x="59" y="551.5">45</text><text x="59" y="560.1">40</text><text x="59" y="568.7">35</text><text x="59" y="577.3">30</text><text x="59" y="585.9">25</text><text x="59" y="594.5">20</text><text x="59" y="603.2">15</text><text x="59" y="611.8">10</text><text x="59" y="620.4">5</text><text x="59" y="629">0</text>
</g>
<g class="tk" text-anchor="end" style="font-size:4.6px">
<text transform="translate(83 633) rotate(-45)">-0.000001</text>
<text transform="translate(92.7 633) rotate(-45)">0</text>
<text transform="translate(102.4 633) rotate(-45)">0.000001</text>
<text transform="translate(112.1 633) rotate(-45)">0.000002</text>
<text transform="translate(121.8 633) rotate(-45)">0.000003</text>
<text transform="translate(131.5 633) rotate(-45)">0.000004</text>
<text transform="translate(141.2 633) rotate(-45)">0.000005</text>
<text transform="translate(150.9 633) rotate(-45)">0.000006</text>
<text transform="translate(160.6 633) rotate(-45)">0.000007</text>
<text transform="translate(170.3 633) rotate(-45)">0.000008</text>
<text transform="translate(180 633) rotate(-45)">0.000009</text>
<text transform="translate(189.7 633) rotate(-45)">0.00001</text>
<text transform="translate(199.4 633) rotate(-45)">0.000011</text>
<text transform="translate(209.1 633) rotate(-45)">0.000012</text>
<text transform="translate(218.8 633) rotate(-45)">0.000013</text>
<text transform="translate(228.5 633) rotate(-45)">0.000014</text>
<text transform="translate(238.2 633) rotate(-45)">0.000015</text>
<text transform="translate(247.9 633) rotate(-45)">0.000016</text>
<text transform="translate(257.6 633) rotate(-45)">0.000017</text>
<text transform="translate(267.3 633) rotate(-45)">0.000018</text>
<text transform="translate(277 633) rotate(-45)">0.000019</text>
<text transform="translate(286.7 633) rotate(-45)">0.00002</text>
<text transform="translate(296.4 633) rotate(-45)">0.000021</text>
</g>
<g class="bub">
<circle cx="82" cy="524" r="4.5" fill="#f8c4f4"/>
<circle cx="82" cy="563" r="5.3" fill="#f8c4f4"/>
<circle cx="94" cy="563" r="7.3" fill="#f8c4f4"/>
<circle cx="123" cy="563" r="7.3" fill="#f8c4f4"/>
<circle cx="147" cy="563" r="6.7" fill="#f0409c"/>
<circle cx="163" cy="563" r="6.7" fill="#f0409c"/>
<circle cx="180" cy="577" r="13" fill="#f060b0"/>
<circle cx="80" cy="582" r="11" fill="#d0107a"/>
<circle cx="86" cy="586" r="12" fill="#f060b0"/>
<circle cx="96" cy="588" r="11" fill="#ff1488"/>
<circle cx="104" cy="585" r="12" fill="#ff3a9a"/>
<circle cx="115" cy="583" r="11" fill="#f04aa4"/>
<circle cx="123" cy="580" r="12" fill="#f05aaa"/>
<circle cx="133" cy="584" r="9" fill="#ff2890"/>
<circle cx="142" cy="583" r="8" fill="#f0409c"/>
<circle cx="150" cy="583" r="7" fill="#ff40a0"/>
<circle cx="160" cy="583" r="7" fill="#ff0080"/>
<circle cx="87" cy="579" r="7" fill="#f8d0f8"/>
<circle cx="91" cy="586" r="8" fill="#f8c4f4"/>
<circle cx="150" cy="619" r="8" fill="#f070b8"/>
<circle cx="159" cy="619" r="8" fill="#f070b8"/>
<circle cx="132" cy="657" r="4" fill="#ff1488"/>
<circle cx="143" cy="657" r="4" fill="#ff1488"/>
<circle cx="154" cy="657" r="4" fill="#ff1488"/>
</g>
<text class="lgb" x="303" y="631">M,mol*s^...</text>
<text class="lg" x="303" y="639">of Associated Species:</text>
<text class="lgb" x="303" y="647">Glycerat...</text>
</g>

<g id="scatter-ph">
<rect x="182" y="424" width="334" height="199" fill="#fff"/>
<text class="tk" x="185" y="434">Select Y axis:</text>
<rect x="218" y="428" width="46" height="9" rx="1.5" fill="#eee" stroke="#888" stroke-width="0.5"/>
<text class="tk" x="221" y="434.5">pH</text>
<path d="M257 431.5 L259 433.5 L261 431.5" fill="none" stroke="#222" stroke-width="0.7"/>
<text class="tk" x="287" y="434">Point size:</text>
<rect x="312" y="428" width="47" height="9" rx="1.5" fill="#eee" stroke="#888" stroke-width="0.5"/>
<text class="tk" x="315" y="434.5">Temperature</text>
<path d="M352 431.5 L354 433.5 L356 431.5" fill="none" stroke="#222" stroke-width="0.7"/>
<rect x="288" y="438" width="73" height="3.5" fill="#e4e4e4" stroke="#bbb" stroke-width="0.4"/>
<rect x="320" y="437" width="4" height="6" fill="#d0d0d0" stroke="#999" stroke-width="0.4"/>
<rect x="355" y="437" width="4" height="6" fill="#d0d0d0" stroke="#999" stroke-width="0.4"/>
<text class="tk" x="288" y="450">16 - 30</text>
<text x="308" y="450" style="font-size:4.2px">(25.37) mapped to [1,30]</text>
<text class="tk" x="392" y="434">Points currently colored by: <tspan font-weight="bold">pH</tspan></text>
<text class="tk" x="452" y="466">Zoom: 1</text>
<rect x="453" y="469" width="36" height="8.5" rx="1.5" fill="#eee" stroke="#888" stroke-width="0.5"/>
<text x="456" y="475.3" style="font-size:4.8px">Reset position</text>
<text x="207" y="466" style="font-size:5.4px;font-weight:bold">pH</text>
<path class="ax" d="M217 471.7 V585 H450"/>
<path class="ax" d="M215 471.7H217M215 478.1H217M215 484.5H217M215 491H217M215 497.4H217M215 503.8H217M215 510.2H217M215 516.6H217M215 523H217M215 529.4H217M215 535.8H217M215 542.2H217M215 548.6H217M215 555.1H217M215 561.5H217M215 567.9H217M215 574.3H217M215 580.7H217"/>
<g class="tk" text-anchor="end" style="font-size:4.8px">
<text x="214" y="473.5">10.2</text><text x="214" y="479.9">10</text><text x="214" y="486.3">9.8</text><text x="214" y="492.8">9.6</text><text x="214" y="499.2">9.4</text><text x="214" y="505.6">9.2</text><text x="214" y="512">9</text><text x="214" y="518.4">8.8</text><text x="214" y="524.8">8.6</text><text x="214" y="531.2">8.4</text><text x="214" y="537.6">8.2</text><text x="214" y="544">8</text><text x="214" y="550.4">7.8</text><text x="214" y="556.9">7.6</text><text x="214" y="563.3">7.4</text><text x="214" y="569.7">7.2</text><text x="214" y="576.1">7</text><text x="214" y="582.5">6.8</text>
</g>
<g class="tk" text-anchor="end" style="font-size:4.8px">
<text transform="translate(219 588) rotate(-45)">-0.00002</text>
<text transform="translate(233.5 588) rotate(-45)">0</text>
<text transform="translate(248 588) rotate(-45)">0.00002</text>
<text transform="translate(262.5 588) rotate(-45)">0.00004</text>
<text transform="translate(277 588) rotate(-45)">0.00006</text>
<text transform="translate(291.5 588) rotate(-45)">0.00008</text>
<text transform="translate(306 588) rotate(-45)">0.0001</text>
<text transform="translate(320.5 588) rotate(-45)">0.00012</text>
<text transform="translate(335 588) rotate(-45)">0.00014</text>
<text transform="translate(349.5 588) rotate(-45)">0.00016</text>
<text transform="translate(364 588) rotate(-45)">0.00018</text>
<text transform="translate(378.5 588) rotate(-45)">0.0002</text>
<text transform="translate(393 588) rotate(-45)">0.00022</text>
<text transform="translate(407.5 588) rotate(-45)">0.00024</text>
<text transform="translate(422 588) rotate(-45)">0.00026</text>
<text transform="translate(436.5 588) rotate(-45)">0.00028</text>
<text transform="translate(451 588) rotate(-45)">0.0003</text>
</g>
<g class="bub">
<circle cx="243" cy="478" r="6.7" fill="#8a66c8"/>
<circle cx="252" cy="478" r="6.7" fill="#8a66c8"/>
<circle cx="270" cy="478" r="6.7" fill="#8a66c8"/>
<circle cx="324" cy="478" r="6.7" fill="#8a66c8"/>
<circle cx="402" cy="478" r="6.7" fill="#8a66c8"/>
<circle cx="422" cy="478" r="6.7" fill="#8a66c8"/>
<circle cx="258" cy="511" r="6.7" fill="#3ae08a"/>
<circle cx="234" cy="542" r="13" fill="#f8a868"/>
<circle cx="230" cy="574" r="6.7" fill="#5a30a8"/>
<circle cx="236" cy="574" r="6.7" fill="#6a48b8"/>
<circle cx="243" cy="574" r="6.7" fill="#6a48b8"/>
<circle cx="253" cy="574" r="6.7" fill="#7858c0"/>
<circle cx="268" cy="574" r="6.7" fill="#7858c0"/>
<circle cx="282" cy="574" r="6.7" fill="#7858c0"/>
<circle cx="322" cy="574" r="6.7" fill="#7858c0"/>
<circle cx="330" cy="574" r="6.7" fill="#6a48b8"/>
<circle cx="394" cy="574" r="6.7" fill="#7858c0"/>
<circle cx="401" cy="574" r="6.7" fill="#4a2aa0"/>
<circle cx="422" cy="574" r="6.7" fill="#7858c0"/>
<circle cx="240" cy="565" r="7" fill="#a050b0"/>
<circle cx="231" cy="558" r="11" fill="#e8509c"/>
<circle cx="236" cy="558" r="9" fill="#f060a8"/>
<circle cx="242" cy="558" r="7" fill="#f070b0"/>
<circle cx="233" cy="558" r="6" fill="#e04090"/>
<circle cx="269" cy="558" r="7" fill="#f07ab8"/>
<circle cx="286" cy="563" r="9.3" fill="#c266b8"/>
<circle cx="320" cy="558" r="7" fill="#f07ab8"/>
<circle cx="338" cy="563" r="9.3" fill="#c266b8"/>
<circle cx="422" cy="563" r="9.3" fill="#c266b8"/>
<circle cx="238" cy="612" r="6" fill="#ff2a2a"/>
<circle cx="258" cy="612" r="6" fill="#ff2a2a"/>
<circle cx="404" cy="612" r="6" fill="#ff2a2a"/>
</g>
<rect x="281" y="484" width="110" height="62" fill="#0c6cd2" stroke="#0a4ea0" stroke-width="0.6"/>
<g style="font-size:6.4px">
<text x="286" y="493" fill="#fff" style="fill:#fff">Start Value Original: 0.000053</text>
<text x="286" y="501" style="fill:#fff">Temperature: 25</text>
<text x="286" y="509" style="fill:#fff">pH: 10</text>
<text x="286" y="517" style="fill:#fff">EntryID: 12830</text>
<text x="286" y="525" style="fill:#fff">Type: Km</text>
<text x="286" y="533" style="fill:#fff">Associated Species: NAD+</text>
<text x="286" y="541" style="fill:#fff">Unit: M</text>
</g>
<text class="lg" x="453" y="564">Start Value for types:</text>
<text class="lgb" x="455" y="571.5">Km,Vmax</text>
<text class="lg" x="453" y="579">of units:</text>
<text class="lgb" x="455" y="586.5">M,mol*s^...</text>
<text class="lg" x="453" y="594">of Associated Species:</text>
<text class="lgb" x="455" y="601.5">NAD+,1-O...</text>
</g>

<g id="parallel-coords">
<rect x="540" y="485" width="360" height="180" fill="#fff"/>
<g style="font-size:6.4px" text-anchor="middle">
<text x="569" y="496">EntryID</text>
<text x="648" y="496">Type</text>
<text x="727" y="494">Associated</text>
<text x="727" y="501">Species</text>
<text x="806" y="494">Start</text>
<text x="806" y="501">Value</text>
<text x="806" y="508">Original</text>
<text x="884" y="496">Unit</text>
</g>
<g class="pc">
<path d="M569 517 L648 517 L727 662 L806 662 L884 662" stroke="#e8489a" stroke-width="1.3"/>
<path d="M569 517 L648 662 L727 517 L806 530 L884 662" stroke="#e8408a" stroke-width="1.2"/>
<path d="M569 577 L648 517 L727 662 L806 655 L884 662" stroke="#f7a6cc"/>
<path d="M569 577 L648 662 L727 522.6 L806 662 L884 517" stroke="#f7a6cc"/>
<path d="M569 637 L648 517 L727 662 L806 662 L884 662" stroke="#f8b880"/>
<path d="M569 627 L648 517 L727 662 L806 662 L884 517" stroke="#3a10a8" stroke-width="1.3" stroke-opacity="0.85"/>
<path d="M569 627 L648 662 L727 662 L806 662 L884 517" stroke="#3a10a8" stroke-width="1.2" stroke-opacity="0.85"/>
<path d="M569 601 L648 662 L727 644.7 L806 660 L884 662" stroke="#6a7a30"/>
<path d="M569 599 L648 662 L727 550.3 L806 532 L884 662" stroke="#f06050" stroke-opacity="0.8"/>
<path d="M569 618 L648 662 L727 561.4 L806 662 L884 662" stroke="#6040b0"/>
<path d="M569 643 L648 662 L727 589.2 L806 662 L884 588" stroke="#e04090" stroke-opacity="0.8"/>
<path d="M569 662 L648 662 L727 528.1 L806 529 L884 517" stroke="#8050c0"/>
<path d="M569 662 L648 662 L727 533.7 L806 538 L884 517" stroke="#9a70d0"/>
<path d="M569 640 L648 662 L727 539.2 L806 662 L884 662" stroke="#b090d8"/>
<path d="M569 636 L648 662 L727 544.8 L806 560 L884 662" stroke="#f0a0c8"/>
<path d="M569 662 L648 662 L727 567 L806 520 L884 662" stroke="#9a70d0"/>
<path d="M569 662 L648 662 L727 572.5 L806 662 L884 662" stroke="#c8a0e0"/>
<path d="M569 662 L648 662 L727 578.1 L806 545 L884 662" stroke="#f0a0c8"/>
<path d="M569 662 L648 662 L727 583.6 L806 662 L884 662" stroke="#a080d0"/>
<path d="M569 662 L648 662 L727 594.7 L806 600 L884 662" stroke="#a080d0"/>
<path d="M569 662 L648 662 L727 600.3 L806 662 L884 662" stroke="#f0a0c8"/>
<path d="M569 662 L648 662 L727 605.8 L806 625 L884 662" stroke="#b090d8"/>
<path d="M569 662 L648 662 L727 611.4 L806 662 L884 662" stroke="#a080d0"/>
<path d="M569 662 L648 662 L727 616.9 L806 532 L884 662" stroke="#f0a0c8"/>
<path d="M569 662 L648 662 L727 622.5 L806 662 L884 662" stroke="#a080d0"/>
<path d="M569 662 L648 662 L727 628 L806 580 L884 662" stroke="#b090d8"/>
<path d="M569 662 L648 662 L727 633.6 L806 662 L884 662" stroke="#f0a0c8"/>
<path d="M569 662 L648 662 L727 639.1 L806 662 L884 662" stroke="#a080d0"/>
<path d="M569 662 L648 662 L727 650.2 L806 640 L884 662" stroke="#a080d0"/>
<path d="M569 662 L648 662 L727 655.8 L806 662 L884 662" stroke="#f0a0c8"/>
<path d="M569 662 L648 662 L727 517 L806 517 L884 662" stroke="#8a50c0"/>
<path d="M569 662 L648 662 L727 611.4 L806 520 L884 517" stroke="#9a70d0"/>
<path d="M569 662 L648 662 L727 662 L806 662 L884 662" stroke="#5a30b0" stroke-width="1.4"/>
<path d="M569 605 L648 662 L727 555.9 L806 642 L884 662" stroke="#22e08a" stroke-width="1.2" stroke-opacity="0.9"/>
</g>
<path class="ax" d="M569 517V662M648 517V662M727 517V662M806 517V662M884 517V662"/>
<path class="ax" d="M566 529H569M566 557H569M566 586H569M566 613H569M566 642H569M803 529H806M803 555H806M803 582H806M803 609H806M803 635H806M803 662H806"/>
<g style="font-size:5.6px" text-anchor="end">
<text x="565" y="531">60000</text><text x="565" y="559">50000</text><text x="565" y="588">40000</text><text x="565" y="615">30000</text><text x="565" y="644">20000</text>
<text x="645" y="519">Vmax</text><text x="645" y="664">Km</text>
<text x="803" y="531">2.50e-4</text><text x="803" y="557">2.00e-4</text><text x="803" y="584">1.50e-4</text><text x="803" y="611">1.00e-4</text><text x="803" y="637">5.00e-5</text><text x="803" y="664">0.00e+0</text>
<text x="881" y="519">mol*s^(-...</text><text x="881" y="590">M*s^(-1)</text><text x="881" y="664">M</text>
</g>
<g style="font-size:5.4px" text-anchor="end">
<text x="724" y="519">p-Nitrop...</text><text x="724" y="524.6">Uridine</text><text x="724" y="530.1">Propiona...</text><text x="724" y="535.7">Progeste...</text><text x="724" y="541.2">Phenylac...</text><text x="724" y="546.8">Pentanal</text><text x="724" y="552.3">NADH</text><text x="724" y="557.9">NAD+</text><text x="724" y="563.4">Isovaler...</text><text x="724" y="569">Glycolal...</text><text x="724" y="574.5">Formalde...</text><text x="724" y="580.1">Cytidine</text><text x="724" y="585.6">Cinnamal...</text><text x="724" y="591.2">Chloroac...</text><text x="724" y="596.7">Benzalde...</text><text x="724" y="602.3">Acetalde...</text><text x="724" y="607.8">Alpha-An...</text><text x="724" y="613.4">Beta-An...</text><text x="724" y="618.9">3-Oxo-5b...</text><text x="724" y="624.5">2'-...-Cy...</text><text x="724" y="630">16-Hydro...</text><text x="724" y="635.6">12-Hydro...</text><text x="724" y="641.1">1-Pentanol</text><text x="724" y="646.7">1-Octanol</text><text x="724" y="652.2">1-Hexanol</text><text x="724" y="657.8">1-Butanol</text>
</g>
</g>
</svg>
